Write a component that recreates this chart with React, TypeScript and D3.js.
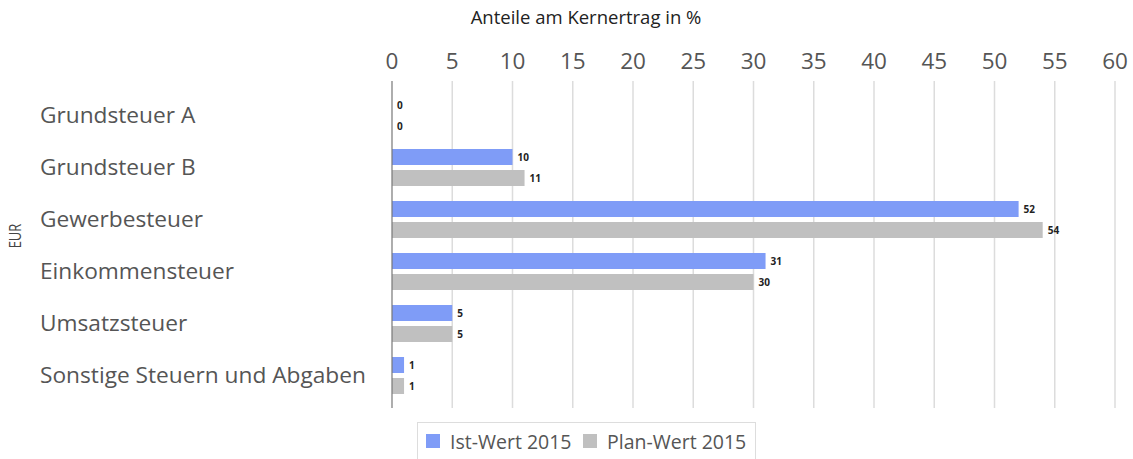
import React from "react";
import * as d3 from "d3";

const categories = ["Grundsteuer A", "Grundsteuer B", "Gewerbesteuer", "Einkommensteuer", "Umsatzsteuer", "Sonstige Steuern und Abgaben"];
const istWerte = [0, 10, 52, 31, 5, 1];
const planWerte = [0, 11, 54, 30, 5, 1];
const seriesNames = ["Ist-Wert 2015", "Plan-Wert 2015"];
const xTicks = [0, 5, 10, 15, 20, 25, 30, 35, 40, 45, 50, 55, 60];

const W = 1133, H = 459;
const colors = ["#7f9cf7", "#c0c0c0"];

export default function App() {
  const x = d3.scaleLinear().domain([0, 60]).range([392, 1115]);
  const y = d3.scaleBand<string>().domain(categories).range([89, 401]);
  const barOffsets = [-18, 3];
  const bh = 16;
  const font = "'Open Sans', sans-serif";
  const series = [istWerte, planWerte];
  return (
    <svg width={W} height={H} style={{ position: "absolute", left: 0, top: 0 }} fontFamily={font}>
      <rect width={W} height={H} fill="#fff" />
      <text x={586} y={24} textAnchor="middle" fontSize={18.5} fill="#222">Anteile am Kernertrag in %</text>
      {xTicks.map((t) => (
        <g key={t}>
          <text x={x(t)} y={69} textAnchor="middle" fontSize={22.5} fill="#555">{t}</text>
          {t > 0 && <line x1={x(t)} x2={x(t)} y1={81} y2={408} stroke="#dcdcdc" strokeWidth={1.5} />}
        </g>
      ))}
      <text transform="translate(21,236) scale(1.3,1) rotate(-90)" textAnchor="middle" fontSize={13} fill="#444">EUR</text>
      {categories.map((c, i) => {
        const cy = (y(c) as number) + y.bandwidth() / 2;
        return (
          <g key={c}>
            <text x={40} y={cy + 8} fontSize={22.7} fill="#555">{c}</text>
            {series.map((s, j) => {
              const by = cy + barOffsets[j];
              return (
                <g key={j}>
                  {s[i] > 0 && <rect x={x(0)} y={by} width={x(s[i]) - x(0)} height={bh} fill={colors[j]} />}
                  <text x={x(s[i]) + 5} y={by + bh / 2 + 3.5} fontSize={10} fontWeight="bold" fill="#222">{s[i]}</text>
                </g>
              );
            })}
          </g>
        );
      })}
      <line x1={x(0)} x2={x(0)} y1={81} y2={408} stroke="#777" strokeWidth={1.2} />
      <rect x={417.5} y={422.5} width={338} height={40} fill="#fff" stroke="#ddd" />
      {seriesNames.map((n, j) => {
        const lx = j === 0 ? 426 : 583;
        return (
          <g key={n}>
            <rect x={lx} y={434} width={14} height={14} fill={colors[j]} />
            <text x={lx + 24} y={449} fontSize={19.5} fill="#555">{n}</text>
          </g>
        );
      })}
    </svg>
  );
}
